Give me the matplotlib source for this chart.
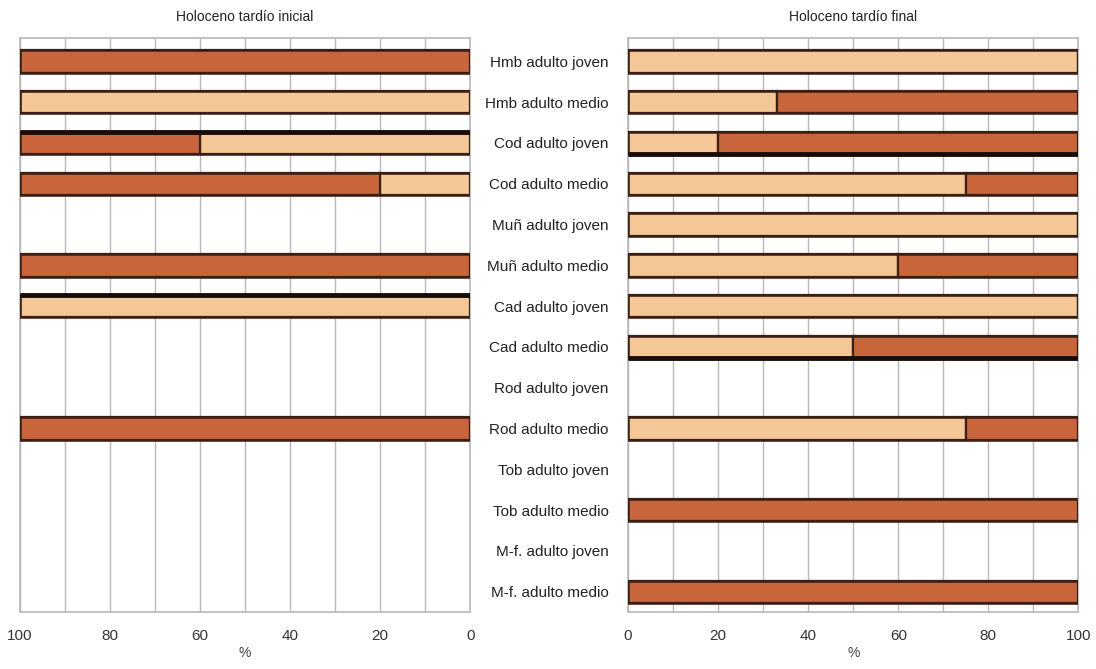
import matplotlib
matplotlib.use("Agg")
import matplotlib.pyplot as plt
import numpy as np

categories = ["Hmb adulto joven", "Hmb adulto medio", "Cod adulto joven", "Cod adulto medio",
              "Muñ adulto joven", "Muñ adulto medio", "Cad adulto joven", "Cad adulto medio",
              "Rod adulto joven", "Rod adulto medio", "Tob adulto joven", "Tob adulto medio",
              "M-f. adulto joven", "M-f. adulto medio"]

left_title = "Holoceno tardío inicial"
right_title = "Holoceno tardío final"

left_light = [0, 100, 60, 20, 0, 0, 100, 0, 0, 0, 0, 0, 0, 0]
left_dark = [100, 0, 40, 80, 0, 100, 0, 0, 0, 100, 0, 0, 0, 0]
right_light = [100, 33, 20, 75, 100, 60, 100, 50, 0, 75, 0, 0, 0, 0]
right_dark = [0, 67, 80, 25, 0, 40, 0, 50, 0, 25, 0, 100, 0, 100]

xticks = [0, 20, 40, 60, 80, 100]

# heavy edges seen on some bars (category, side)
left_heavy = [("Cod adulto joven", "top"), ("Cad adulto joven", "top")]
right_heavy = [("Cod adulto joven", "bottom"), ("Cad adulto medio", "bottom")]

LIGHT = "#F4C896"
DARK = "#C9653A"
EDGE = "#3B1E14"
GRID = "#B8B8B8"
H = 0.55

plt.rcParams['font.family'] = ['Liberation Sans', 'DejaVu Sans']

fig = plt.figure(figsize=(10.96, 6.69), dpi=100)
axL = fig.add_axes([0.018, 0.085, 0.411, 0.858])
axR = fig.add_axes([0.573, 0.085, 0.411, 0.858])

y = np.arange(len(categories))

def draw(ax, light, dark, heavy, title):
    light = np.array(light, float)
    dark = np.array(dark, float)
    ax.set_axisbelow(True)
    for i in range(len(categories)):
        if light[i] + dark[i] > 0:
            ax.barh(y[i], light[i], height=H, color=LIGHT, edgecolor=EDGE, linewidth=1.6, zorder=3)
            ax.barh(y[i], dark[i], left=light[i], height=H, color=DARK, edgecolor=EDGE, linewidth=1.6, zorder=3)
            ax.barh(y[i], light[i] + dark[i], height=H, fill=False, edgecolor=EDGE, linewidth=1.8, zorder=4)
    for cat, side in heavy:
        i = categories.index(cat)
        tot = light[i] + dark[i]
        yy = y[i] - H / 2 if side == "top" else y[i] + H / 2
        ax.hlines(yy, 0, tot, color="#1a0c08", linewidth=3.5, zorder=5)
    ax.set_ylim(len(categories) - 0.5 + 0.0, -0.57)
    ax.set_xticks(xticks)
    ax.set_xticks(np.arange(0, 101, 10), minor=True)
    ax.grid(axis="x", which="both", color=GRID, linewidth=1.0, zorder=0)
    ax.tick_params(axis="x", which="both", length=0, labelsize=11, pad=12, colors="#333333")
    ax.tick_params(axis="y", length=0)
    for s in ax.spines.values():
        s.set_color(GRID)
        s.set_linewidth(1.2)
    ax.set_xlabel("%", fontsize=10, color="#444444", labelpad=2)
    ax.set_title(title, fontsize=10, color="#222222", pad=12)

draw(axL, left_light, left_dark, left_heavy, left_title)
axL.set_xlim(100, 0)
axL.set_yticks([])

draw(axR, right_light, right_dark, right_heavy, right_title)
axR.set_xlim(0, 100)
axR.set_yticks(y)
axR.set_yticklabels(categories, fontsize=11, color="#222222")
axR.tick_params(axis="y", pad=14)

fig.savefig("out.png", dpi=100, facecolor="white")
